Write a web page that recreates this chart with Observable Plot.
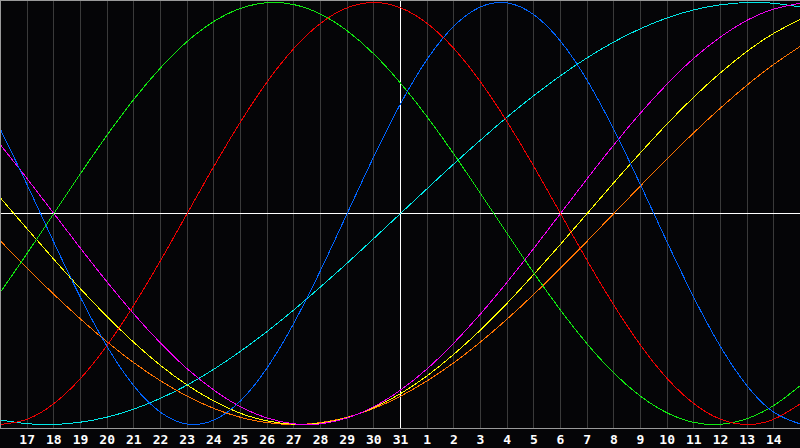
<!DOCTYPE html>
<html><head><meta charset="utf-8">
<script src="https://cdn.jsdelivr.net/npm/d3@7"></script>
<script src="https://cdn.jsdelivr.net/npm/@observablehq/plot@0.6"></script>
<style>html,body{margin:0;padding:0;background:#050507;overflow:hidden}</style>
</head><body><div id="chart"></div>
<script>
// Day labels (16 .. 31, 1 .. 15); index 15 = "31" is the current day
const dayLabels = ["16","17","18","19","20","21","22","23","24","25","26","27","28","29","30","31","1","2","3","4","5","6","7","8","9","10","11","12","13","14","15"];
const todayIndex = 15;
const tickIndexes = [1,2,3,4,5,6,7,8,9,10,11,12,13,14,15,16,17,18,19,20,21,22,23,24,25,26,27,28,29];

// Cycle values (percent) read per day from the chart
const physical     = [39.8, 13.6, -13.6, -39.8, -63.1, -81.7, -94.2, -99.8, -97.9, -88.8, -73.1, -52.0, -27.0, 0, 27.0, 52.0, 73.1, 88.8, 97.9, 99.8, 94.2, 81.7, 63.1, 39.8, 13.6, -13.6, -39.8, -63.1, -81.7, -94.2, -99.8];
const emotional    = [-100, -97.5, -90.1, -78.2, -62.4, -43.4, -22.3, 0, 22.3, 43.4, 62.4, 78.2, 90.1, 97.5, 100, 97.5, 90.1, 78.2, 62.4, 43.4, 22.3, 0, -22.3, -43.4, -62.4, -78.2, -90.1, -97.5, -100, -97.5, -90.1];
const intellectual = [-37.2, -18.9, 0, 18.9, 37.2, 54.1, 69.0, 81.5, 91.0, 97.2, 99.9, 99.0, 94.5, 86.6, 75.6, 61.8, 45.8, 28.2, 9.5, -9.5, -28.2, -45.8, -61.8, -75.6, -86.6, -94.5, -99.0, -99.9, -97.2, -91.0, -81.5];
const intuitive    = [32.5, 16.5, 0, -16.5, -32.5, -47.6, -61.4, -73.6, -83.7, -91.6, -96.9, -99.7, -99.7, -96.9, -91.6, -83.7, -73.6, -61.4, -47.6, -32.5, -16.5, 0, 16.5, 32.5, 47.6, 61.4, 73.6, 83.7, 91.6, 96.9, 99.7];
const aesthetic    = [7.3, -7.3, -21.7, -35.7, -48.9, -61.1, -72.0, -81.3, -88.9, -94.7, -98.3, -99.9, -99.4, -96.8, -92.0, -85.4, -76.9, -66.7, -55.2, -42.5, -28.8, -14.6, 0, 14.6, 28.8, 42.5, 55.2, 66.7, 76.9, 85.4, 92.0];
const awareness    = [-13.1, -25.9, -38.3, -50.0, -60.9, -70.7, -79.3, -86.6, -92.4, -96.6, -99.1, -100, -99.1, -96.6, -92.4, -86.6, -79.3, -70.7, -60.9, -50.0, -38.3, -25.9, -13.1, 0, 13.1, 25.9, 38.3, 50.0, 60.9, 70.7, 79.3];
const spiritual    = [-97.9, -99.6, -100.0, -98.9, -96.5, -92.7, -87.6, -81.3, -73.8, -65.3, -55.9, -45.7, -34.8, -23.5, -11.8, 0, 11.8, 23.5, 34.8, 45.7, 55.9, 65.3, 73.8, 81.3, 87.6, 92.7, 96.5, 98.9, 100.0, 99.6, 97.9];

const seriesNames  = ["spiritual", "awareness", "aesthetic", "intuitive", "intellectual", "emotional", "physical"];
const seriesValues = [spiritual, awareness, aesthetic, intuitive, intellectual, emotional, physical];
const seriesColors = ["#00e8e8", "#ff7400", "#ffff00", "#f000f0", "#10e810", "#ee0000", "#0064ff"];

const gridIndexes = tickIndexes.filter(i => i !== todayIndex);

const lineMarks = seriesValues.map((vals, k) =>
  Plot.line(vals.map((v, i) => ({i, v, name: seriesNames[k]})), {
    x: "i", y: "v", stroke: seriesColors[k], strokeWidth: 1, curve: "natural", shapeRendering: "crispEdges"
  })
);

const chart = Plot.plot({
  width: 800, height: 448,
  marginTop: 0, marginBottom: 20, marginLeft: 0, marginRight: 0,
  style: {background: "#050507", color: "#ffffff", fontFamily: "'DejaVu Sans Mono', monospace", fontSize: "13px", fontWeight: "bold"},
  x: {domain: [0, dayLabels.length - 1], axis: null},
  y: {domain: [-100, 100], range: [424, 2], axis: null},
  marks: [
    Plot.ruleX(gridIndexes, {stroke: "#3a3a3a", strokeWidth: 1, shapeRendering: "crispEdges"}),
    Plot.ruleY([0], {stroke: "#ffffff", shapeRendering: "crispEdges"}),
    Plot.ruleX([todayIndex], {stroke: "#ffffff", shapeRendering: "crispEdges"}),
    ...lineMarks,
    Plot.frame({anchor: "bottom", stroke: "#9a9a9a"}),
    Plot.frame({anchor: "top", stroke: "#9a9a9a"}),
    Plot.frame({anchor: "left", stroke: "#9a9a9a"}),
    Plot.frame({anchor: "right", stroke: "#9a9a9a"}),
    Plot.axisX(tickIndexes, {tickFormat: i => dayLabels[i], label: null, tickSize: 0, tickPadding: 6, fill: "#ffffff", fontWeight: "bold", fontSize: 13})
  ]
});
document.getElementById("chart").appendChild(chart);
</script>
</body></html>
